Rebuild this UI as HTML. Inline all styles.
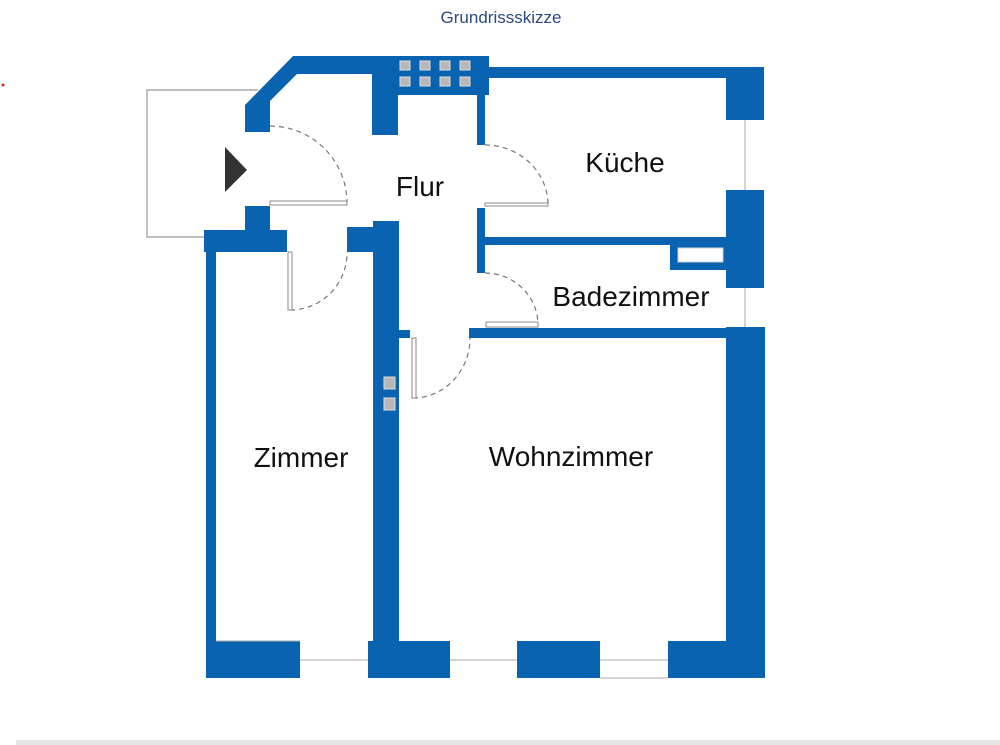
<!DOCTYPE html>
<html><head><meta charset="utf-8"><style>
html,body{margin:0;padding:0;background:#fff;width:1000px;height:745px;overflow:hidden}
svg{position:absolute;left:0;top:0}
</style></head><body>
<svg width="1000" height="745" viewBox="0 0 1000 745" xmlns="http://www.w3.org/2000/svg" font-family="Liberation Sans, Arial, sans-serif">
<text x="501" y="23" text-anchor="middle" font-size="17" fill="#2a4a80">Grundrissskizze</text>
<circle cx="3" cy="85" r="1.5" fill="#e02020"/>
<rect x="16" y="740" width="984" height="5" fill="#e6e6e6"/>
<polyline points="258,90 147,90 147,237 206,237" fill="none" stroke="#999" stroke-width="1.2"/>
<g fill="#0a63b0">
<polygon points="293,56 489,56 489,95 398,95 398,135 372,135 372,74 297,74 270,101 270,132 245,132 245,105"/>
<rect x="477" y="56" width="8" height="89"/>
<rect x="485" y="67" width="279" height="11"/>
<rect x="726" y="67" width="38" height="53"/>
<rect x="726" y="190" width="38" height="98"/>
<rect x="726" y="327" width="39" height="351"/>
<rect x="477" y="237" width="249" height="8"/>
<rect x="469" y="328" width="257" height="10"/>
<rect x="477" y="208" width="8" height="65"/>
<rect x="670" y="245" width="56" height="25"/>
<rect x="245" y="206" width="25" height="26"/>
<rect x="204" y="230" width="83" height="22"/>
<rect x="206" y="230" width="10" height="448"/>
<rect x="347" y="227" width="51" height="25"/>
<rect x="373" y="221" width="26" height="457"/>
<rect x="398" y="330" width="12" height="8"/>
<rect x="206" y="641" width="94" height="37"/>
<rect x="368" y="641" width="82" height="37"/>
<rect x="517" y="641" width="83" height="37"/>
<rect x="668" y="641" width="97" height="37"/>
</g>
<rect x="678" y="248" width="45" height="14" fill="#fff" stroke="#ccc"/>
<g fill="#b8b8b8" stroke="#ddd" stroke-width="1">
<rect x="400" y="61" width="10" height="9"/><rect x="420" y="61" width="10" height="9"/><rect x="440" y="61" width="10" height="9"/><rect x="460" y="61" width="10" height="9"/>
<rect x="400" y="77" width="10" height="9"/><rect x="420" y="77" width="10" height="9"/><rect x="440" y="77" width="10" height="9"/><rect x="460" y="77" width="10" height="9"/>
<rect x="384" y="377" width="11" height="12"/><rect x="384" y="398" width="11" height="12"/>
</g>
<g stroke="#aaa" stroke-width="1" fill="none">
<line x1="745" y1="120" x2="745" y2="190"/><line x1="745" y1="288" x2="745" y2="327"/>
<line x1="300" y1="660" x2="368" y2="660"/><line x1="450" y1="660" x2="517" y2="660"/><line x1="600" y1="660" x2="668" y2="660"/>
<line x1="216" y1="641" x2="300" y2="641"/><line x1="600" y1="678" x2="668" y2="678"/>
</g>
<g fill="none" stroke="#777" stroke-width="1.2" stroke-dasharray="5,4">
<path d="M270,126 A77,77 0 0 1 347,203"/>
<path d="M290,310 A57,57 0 0 0 347,252"/>
<path d="M485,145 A63,60 0 0 1 548,205"/>
<path d="M485,273 A53,52 0 0 1 538,325"/>
<path d="M413,398 A57,60 0 0 0 470,338"/>
</g>
<g fill="#fff" stroke="#888" stroke-width="1">
<rect x="270" y="201" width="77" height="4"/>
<rect x="288" y="252" width="4" height="58"/>
<rect x="485" y="203" width="63" height="3"/>
<rect x="486" y="322" width="52" height="5"/>
<rect x="412" y="338" width="4" height="60"/>
</g>
<polygon points="225,147 247,170 225,192" fill="#333"/>
<g font-size="28" fill="#111">
<text x="420" y="196" text-anchor="middle">Flur</text>
<text x="625" y="172" text-anchor="middle">Küche</text>
<text x="631" y="306" text-anchor="middle">Badezimmer</text>
<text x="301" y="467" text-anchor="middle">Zimmer</text>
<text x="571" y="466" text-anchor="middle">Wohnzimmer</text>
</g>
</svg>
</body></html>
